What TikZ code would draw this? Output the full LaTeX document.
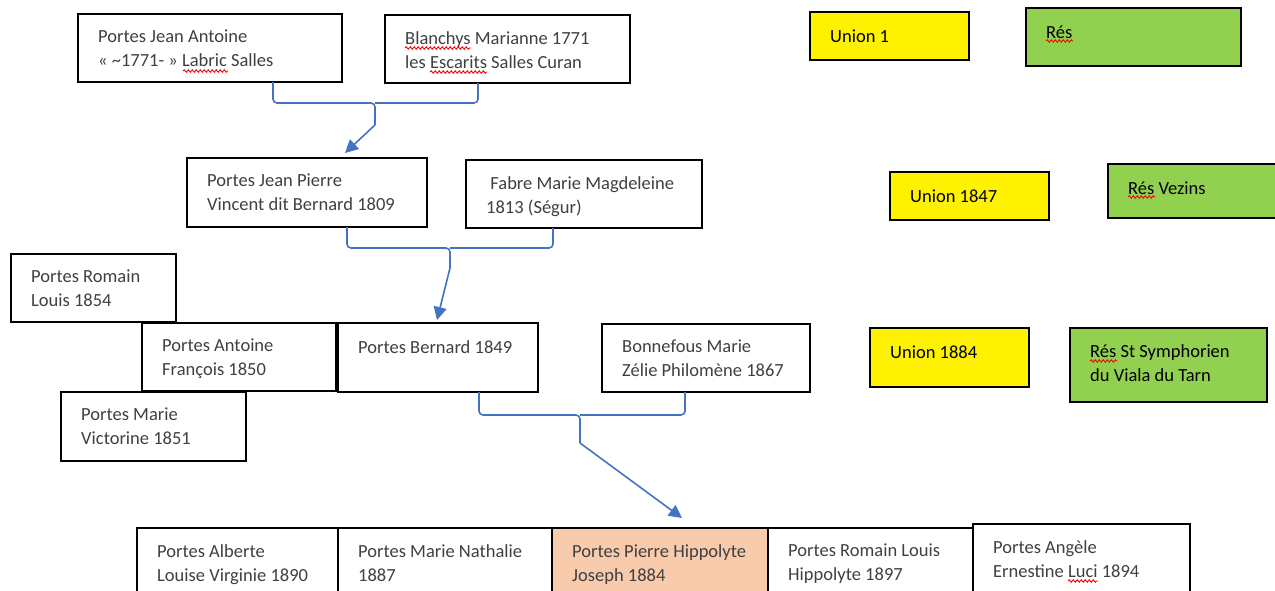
\documentclass[tikz,border=0pt]{standalone}
\usepackage{fontspec}
\setmainfont{Carlito}
\usetikzlibrary{arrows.meta, calc, decorations.pathmorphing}
\definecolor{linkblue}{HTML}{4472C4}
\definecolor{resgreen}{HTML}{92D050}
\definecolor{selfpeach}{HTML}{F8CBAD}
\newcommand{\tagfont}{\fontsize{18.5}{24}\selectfont}

\begin{document}
\begin{tikzpicture}[
  x=1pt, y=-1pt,
  box/.style={draw, line width=1.4pt, fill=white, anchor=north west, inner sep=0pt, outer sep=0pt},
  union/.style={box, fill=yellow},
  res/.style={box, fill=resgreen},
  self/.style={box, fill=selfpeach},
  tag/.style={font=\tagfont, text=black!75, align=left, anchor=north west, inner sep=0pt,
    xshift=20pt, yshift=-16pt, execute at begin node={\rule{0pt}{14pt}}},
  ytag/.style={tag, text=black},
  fork/.style={linkblue, line width=1.6pt, rounded corners=4pt},
  arr/.style={linkblue, line width=1.6pt, -{Triangle[length=13pt,width=13pt]}},
  spell/.style={red, line width=0.9pt, decorate, decoration={snake, amplitude=1.2pt, segment length=4pt}}
]
\clip (0,0) rectangle (1275,591);

% first couple
\node[box, minimum width=264pt, minimum height=68pt,
  label={[tag]north west:{Portes Jean Antoine\\« \textasciitilde1771- » Labric Salles}}] (ja) at (78,14) {};
\node[box, minimum width=245pt, minimum height=68pt,
  label={[tag]north west:{Blanchys Marianne 1771\\les Escarits Salles Curan}}] (bm) at (385,15) {};

% second couple
\node[box, minimum width=240pt, minimum height=69pt,
  label={[tag]north west:{Portes Jean Pierre\\Vincent dit Bernard 1809}}] (jp) at (187,158) {};
\node[box, minimum width=236pt, minimum height=68pt,
  label={[tag]north west:{\ Fabre Marie Magdeleine\\1813 (Ségur)}}] (fm) at (466,160) {};

% siblings and third couple
\node[box, minimum width=165pt, minimum height=68pt,
  label={[tag]north west:{Portes Romain\\Louis 1854}}] (rl) at (11,254) {};
\node[box, minimum width=194pt, minimum height=68pt,
  label={[tag]north west:{Portes Antoine\\François 1850}}] (af) at (142,323) {};
\node[box, minimum width=200pt, minimum height=69pt,
  label={[tag]north west:{Portes Bernard 1849}}] (pb) at (338,323) {};
\node[box, minimum width=208pt, minimum height=68pt,
  label={[tag]north west:{Bonnefous Marie\\Zélie Philomène 1867}}] (bo) at (602,324) {};
\node[box, minimum width=185pt, minimum height=69pt,
  label={[tag]north west:{Portes Marie\\Victorine 1851}}] (mv) at (61,392) {};

% unions and residences
\node[union, minimum width=159pt, minimum height=48pt,
  label={[ytag]north west:{Union 1}}] (u1) at (810,12) {};
\node[res, minimum width=215pt, minimum height=58pt,
  label={[ytag]north west:{Rés}}] (r1) at (1026,8) {};
\node[union, minimum width=159pt, minimum height=48pt,
  label={[ytag]north west:{Union 1847}}] (u2) at (890,172) {};
\node[res, minimum width=180pt, minimum height=54pt,
  label={[ytag]north west:{Rés Vezins}}] (r2) at (1108,164) {};
\node[union, minimum width=159pt, minimum height=59pt,
  label={[ytag]north west:{Union 1884}}] (u3) at (870,328) {};
\node[res, minimum width=197pt, minimum height=74pt,
  label={[ytag]north west:{Rés St Symphorien\\du Viala du Tarn}}] (r3) at (1070,328) {};

% children
\node[box, minimum width=201pt, minimum height=80pt,
  label={[tag]north west:{Portes Alberte\\Louise Virginie 1890}}] (c1) at (137,528) {};
\node[box, minimum width=214pt, minimum height=80pt,
  label={[tag]north west:{Portes Marie Nathalie\\1887}}] (c2) at (338,528) {};
\node[self, minimum width=216pt, minimum height=80pt,
  label={[tag]north west:{Portes Pierre Hippolyte\\Joseph 1884}}] (ph) at (552,528) {};
\node[box, minimum width=205pt, minimum height=80pt,
  label={[tag]north west:{Portes Romain Louis\\Hippolyte 1897}}] (c4) at (768,528) {};
\node[box, minimum width=217pt, minimum height=80pt,
  label={[tag]north west:{Portes Angèle\\Ernestine Luci 1894}}] (c5) at (973,524) {};

% brackets
\coordinate (m1) at (375,103);
\coordinate (f1) at (375,125);
\coordinate (m2) at (450,248);
\coordinate (f2) at (450,268);
\coordinate (m3) at (580,415);
\coordinate (f3) at (580,443);

\draw[fork] ($(ja.south)+(63,0)$) |- (m1) -- (f1);
\draw[fork] ($(bm.south)+(-29.5,0)$) |- (m1);
\draw[arr] (f1) -- ($(jp.north)+(38,-5)$);

\draw[fork] ($(jp.south)+(40,0)$) |- (m2) -- (f2);
\draw[fork] ($(fm.south)+(-31,0)$) |- (m2);
\draw[arr] (f2) -- ($(pb.north)+(-1,-3)$);

\draw[fork] ($(pb.south)+(41,0)$) |- (m3) -- (f3);
\draw[fork] ($(bo.south)+(-21,0)$) |- (m3);
\draw[arr] (f3) -- ($(ph.north)+(22,-10)$);

% spelling marks
\draw[spell] ($(bm.north west)+(20,33)$) -- ++(66,0);
\draw[spell] ($(ja.north west)+(105,57)$) -- ++(45,0);
\draw[spell] ($(bm.north west)+(45,57)$) -- ++(57,0);
\draw[spell] ($(r1.north west)+(20,33)$) -- ++(27,0);
\draw[spell] ($(r2.north west)+(20,33)$) -- ++(27,0);
\draw[spell] ($(r3.north west)+(20,33)$) -- ++(27,0);
\draw[spell] ($(c5.north west)+(95,57)$) -- ++(30,0);

\end{tikzpicture}
\end{document}
